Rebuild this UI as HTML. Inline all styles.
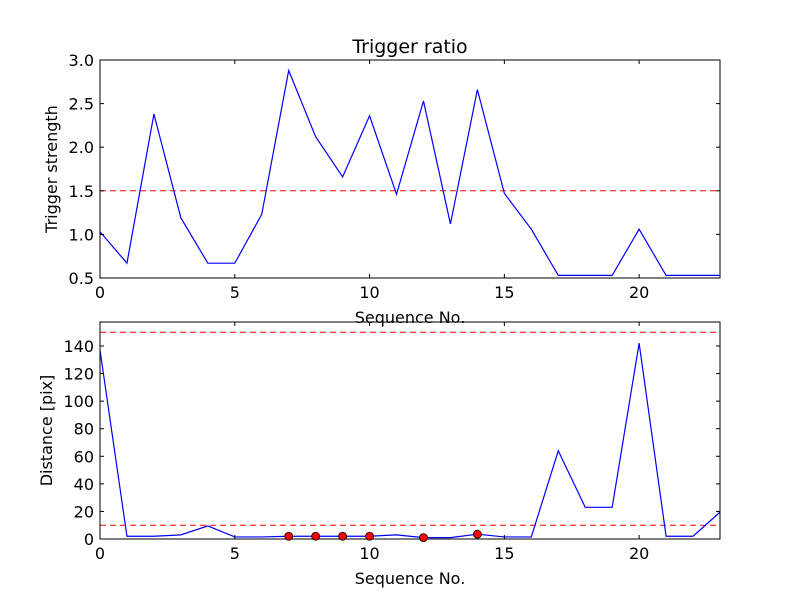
<!DOCTYPE html>
<html><head><meta charset="utf-8"><style>
body{margin:0;background:#fff;font-family:"Liberation Sans","DejaVu Sans",sans-serif}
svg text{font-family:"DejaVu Sans","Liberation Sans",sans-serif;font-size:16px;fill:#000}
</style></head><body>
<svg id="c" width="800" height="600" xmlns="http://www.w3.org/2000/svg"></svg>
<script>
const seq = [0,1,2,3,4,5,6,7,8,9,10,11,12,13,14,15,16,17,18,19,20,21,22,23];
const strength = [1.03,0.67,2.38,1.19,0.67,0.67,1.23,2.88,2.12,1.66,2.36,1.46,2.53,1.12,2.66,1.47,1.06,0.53,0.53,0.53,1.06,0.53,0.53,0.53];
const distance = [137,2,2,3,9.5,1.5,1.5,2,2,2,2,3,1,1,3.5,1.5,1.5,64,23,23,142,2,2,19.5];
const markedIdx = [7,8,9,10,12,14];
const strengthThreshold = [1.5];
const distanceThresholds = [150,10];
const xTicks = [0,5,10,15,20];
const yTicksTop = [0.5,1.0,1.5,2.0,2.5,3.0];
const yTicksBot = [0,20,40,60,80,100,120,140];

const NS="http://www.w3.org/2000/svg";
const svg=document.getElementById('c');
function mk(t,a,p){const e=document.createElementNS(NS,t);for(const k in a)e.setAttribute(k,a[k]);(p||svg).appendChild(e);return e;}

function panel(name,top,bot,ymin,ymax,ys,yt,ylabel,lines,title){
  const L=100,R=720;
  const sx=v=>L+(v-0)/(23-0)*(R-L);
  const sy=v=>bot-(v-ymin)/(ymax-ymin)*(bot-top);
  const g=mk('g',{});
  
  
  lines.forEach(v=>{
    const l=mk('line',{x1:L,x2:R,y1:sy(v),y2:sy(v),stroke:'#f00','stroke-width':1,'stroke-dasharray':'6,4'},g);
    
    
  });
  const p=mk('polyline',{points:seq.map((x,i)=>sx(x)+','+sy(ys[i])).join(' '),fill:'none',stroke:'#00f','stroke-width':1.2},g);
  
  
  const f=mk('rect',{x:L,y:top,width:R-L,height:bot-top,fill:'none',stroke:'#000','stroke-width':1},g);
  
  
  xTicks.forEach(v=>{
    const x=sx(v);
    mk('line',{x1:x,x2:x,y1:bot,y2:bot-4,stroke:'#000'},g);
    mk('line',{x1:x,x2:x,y1:top,y2:top+4,stroke:'#000'},g);
    const t=mk('text',{x:x,y:bot+20,'text-anchor':'middle'},g);t.textContent=v;
    
    
  });
  yt.forEach(v=>{
    const y=sy(v);
    mk('line',{x1:L,x2:L+4,y1:y,y2:y,stroke:'#000'},g);
    mk('line',{x1:R,x2:R-4,y1:y,y2:y,stroke:'#000'},g);
    const t=mk('text',{x:L-6,y:y+6,'text-anchor':'end'},g);t.textContent=(ymin<1&&ymax<10)?v.toFixed(1):v;
    
    
  });
  const xl=mk('text',{x:410,y:bot+45,'text-anchor':'middle'},g);xl.textContent='Sequence No.';
  
  
  const yl=mk('text',{x:0,y:0,'text-anchor':'middle',transform:`translate(${name==='top-panel'?57:52},${(top+bot)/2}) rotate(-90)`},g);yl.textContent=ylabel;
  
  
  if(title){const tt=mk('text',{x:410,y:53,'text-anchor':'middle','font-size':'19'},g);tt.style.fontSize='19px';tt.textContent=title;
    
    }
  return {sx,sy,g};
}
panel('top-panel',60,278,0.5,3.0,strength,yTicksTop,'Trigger strength',strengthThreshold,'Trigger ratio');
const b=panel('bottom-panel',322,539,0,157.4,distance,yTicksBot,'Distance [pix]',distanceThresholds,null);
markedIdx.forEach(i=>{
  const c=mk('circle',{cx:b.sx(seq[i]),cy:b.sy(distance[i]),r:4,fill:'#f00',stroke:'#000','stroke-width':0.8},b.g);
  
  
});
</script>
</body></html>
